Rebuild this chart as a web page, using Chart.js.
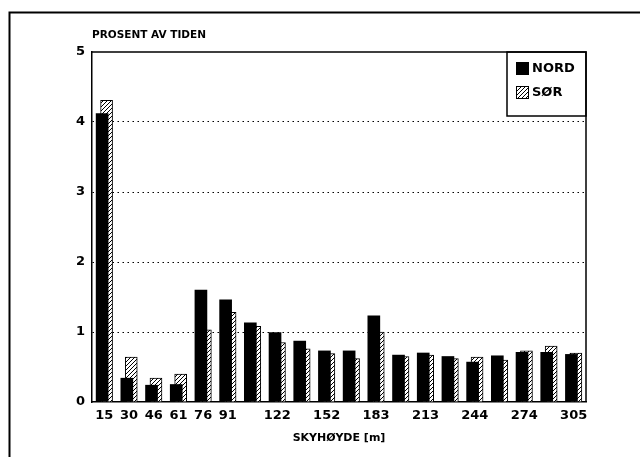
<!DOCTYPE html>
<html lang="no">
<head>
<meta charset="utf-8">
<title>Skyhøyde – prosent av tiden</title>
<script src="https://cdn.jsdelivr.net/npm/chart.js@4.4.1/dist/chart.umd.min.js"></script>
<style>
  html, body { margin: 0; padding: 0; background: #fff; }
  #skyChart { display: block; }
</style>
</head>
<body>
<canvas id="skyChart" width="642" height="457"></canvas>
<script>
// Skyhøyder (m) langs x-aksen
const skyhoyder = [15, 30, 46, 61, 76, 91, 107, 122, 137, 152, 168, 183, 198, 213, 229, 244, 259, 274, 290, 305];
// Etiketter på x-aksen (bare annenhver etter 91 m)
const xEtiketter = ['15', '30', '46', '61', '76', '91', '', '122', '', '152', '', '183', '', '213', '', '244', '', '274', '', '305'];
// Prosent av tiden
const nordVerdier = [4.12, 0.34, 0.24, 0.25, 1.60, 1.46, 1.13, 0.99, 0.87, 0.73, 0.73, 1.23, 0.67, 0.70, 0.65, 0.57, 0.66, 0.71, 0.71, 0.68];
const sorVerdier = [4.31, 0.64, 0.34, 0.40, 1.03, 1.28, 1.08, 0.85, 0.76, 0.69, 0.62, 1.00, 0.65, 0.67, 0.62, 0.64, 0.60, 0.73, 0.80, 0.70];
const yTicks = [0, 1, 2, 3, 4, 5];

const FONT = '"DejaVu Sans", sans-serif';

document.addEventListener('DOMContentLoaded', function() {
  initSkyChart();
});

/**
 * Skravert mønster for SØR-søylene
 */
function lagSkravur() {
  const c = document.createElement('canvas');
  c.width = 4;
  c.height = 4;
  const g = c.getContext('2d');
  g.fillStyle = '#fff';
  g.fillRect(0, 0, 4, 4);
  g.strokeStyle = '#000';
  g.lineWidth = 1;
  g.beginPath();
  g.moveTo(0, 4); g.lineTo(4, 0);
  g.moveTo(-1, 1); g.lineTo(1, -1);
  g.moveTo(3, 5); g.lineTo(5, 3);
  g.stroke();
  return g.createPattern(c, 'repeat');
}

// Ramme, tittel og forklaring tegnes for hånd
const rammePlugin = {
  id: 'ramme',
  beforeDraw(chart) {
    const ctx = chart.ctx;
    ctx.save();
    ctx.fillStyle = '#fff';
    ctx.fillRect(0, 0, chart.width, chart.height);
    ctx.strokeStyle = '#000';
    ctx.lineWidth = 2;
    ctx.beginPath();
    ctx.moveTo(9.5, chart.height);
    ctx.lineTo(9.5, 12.5);
    ctx.lineTo(chart.width - 2, 12.5);
    ctx.stroke();
    ctx.restore();
  },
  afterDraw(chart) {
    const ctx = chart.ctx;
    const a = chart.chartArea;
    ctx.save();

    // topp- og høyrekant på plottet
    ctx.strokeStyle = '#000';
    ctx.lineWidth = 1.5;
    ctx.beginPath();
    ctx.moveTo(a.left, a.top);
    ctx.lineTo(a.right, a.top);
    ctx.lineTo(a.right, a.bottom);
    ctx.stroke();

    // tittel over y-aksen
    ctx.fillStyle = '#000';
    ctx.font = 'bold 10.5px ' + FONT;
    ctx.textAlign = 'left';
    ctx.textBaseline = 'middle';
    ctx.fillText('PROSENT AV TIDEN', a.left, a.top - 17);

    // forklaring
    const bx = a.right - 79;
    const by = a.top;
    ctx.lineWidth = 1.5;
    ctx.strokeRect(bx, by, 79, 64);
    ctx.font = 'bold 13px ' + FONT;
    chart.data.datasets.forEach(function(ds, i) {
      const sy = by + 10 + i * 24;
      ctx.fillStyle = ds.backgroundColor;
      ctx.fillRect(bx + 9, sy, 13, 13);
      ctx.lineWidth = 1;
      ctx.strokeStyle = '#000';
      ctx.strokeRect(bx + 9.5, sy + 0.5, 12, 12);
      ctx.fillStyle = '#000';
      ctx.fillText(ds.label, bx + 25, sy + 7);
    });
    ctx.restore();
  }
};

function initSkyChart() {
  const ctx = document.getElementById('skyChart').getContext('2d');

  const data = {
    datasets: [{
      label: 'NORD',
      data: nordVerdier.map((v, i) => ({ x: i - 0.09, y: v })),
      backgroundColor: '#000',
      borderWidth: 0,
      order: 0
    }, {
      label: 'SØR',
      data: sorVerdier.map((v, i) => ({ x: i + 0.09, y: v })),
      backgroundColor: lagSkravur(),
      borderColor: '#000',
      borderWidth: 1,
      borderSkipped: 'bottom',
      order: 1
    }]
  };

  const options = {
    responsive: false,
    devicePixelRatio: 1,
    animation: false,
    layout: { padding: { left: 0, right: 56, top: 52, bottom: 0 } },
    datasets: {
      bar: { grouped: false, barThickness: 12 }
    },
    scales: {
      x: {
        type: 'linear',
        min: -0.5,
        max: skyhoyder.length - 0.5,
        offset: false,
        afterBuildTicks: function(scale) {
          scale.ticks = skyhoyder.map((h, i) => ({ value: i }));
        },
        afterFit: function(scale) { scale.height = 55; },
        grid: { display: false, offset: false, drawTicks: false },
        border: { display: true, color: '#000', width: 1.5 },
        ticks: {
          autoSkip: false,
          maxRotation: 0,
          padding: 6,
          color: '#000',
          font: { family: FONT, size: 13, weight: 'bold' },
          callback: function(value) { return xEtiketter[value] || ''; }
        },
        title: {
          display: true,
          text: 'SKYHØYDE [m]',
          color: '#000',
          font: { family: FONT, size: 11, weight: 'bold', lineHeight: 1 },
          padding: { top: 0, bottom: 13 }
        }
      },
      y: {
        min: 0,
        max: 5,
        afterBuildTicks: function(scale) {
          scale.ticks = yTicks.map(v => ({ value: v }));
        },
        afterFit: function(scale) { scale.width = 92; },
        grid: {
          drawTicks: false,
          lineWidth: 1,
          color: function(c) {
            const v = c.tick ? c.tick.value : 0;
            return (v > 0 && v < 5) ? '#000' : 'rgba(0,0,0,0)';
          }
        },
        border: { display: true, color: '#000', width: 1.5, dash: [1.5, 3.5] },
        ticks: {
          padding: 7,
          color: '#000',
          font: { family: FONT, size: 13, weight: 'bold' }
        }
      }
    },
    plugins: {
      legend: { display: false },
      tooltip: { enabled: false }
    }
  };

  window.skyChart = new Chart(ctx, {
    type: 'bar',
    data: data,
    options: options,
    plugins: [rammePlugin]
  });
}
</script>
</body>
</html>
